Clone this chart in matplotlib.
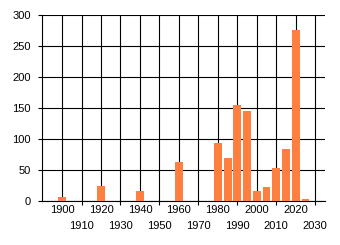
import matplotlib
matplotlib.use('Agg')
import matplotlib.pyplot as plt

plt.rc('font', family='Liberation Sans', size=8)

# Values
years = [1900, 1920, 1940, 1960, 1980, 1985, 1990, 1995, 2000, 2005, 2010, 2015, 2020, 2025]
counts = [6, 24, 16, 63, 93, 69, 155, 145, 16, 22, 54, 84, 276, 3]

top_row = [1900, 1920, 1940, 1960, 1980, 2000, 2020]
bottom_row = [1910, 1930, 1950, 1970, 1990, 2010, 2030]
yticks = [0, 50, 100, 150, 200, 250, 300]

fig = plt.figure(figsize=(3.4, 2.45), dpi=100)
ax = fig.add_axes([42 / 340, 44 / 245, 283 / 340, 186 / 245])

ax.bar(years, counts, width=4, color='#FF7F41', zorder=3)

ax.set_xlim(1889.7, 2035)
ax.set_ylim(0, 300)

# staggered decade labels: even decades on top row, odd ones below
ax.set_xticks(top_row)
ax.set_xticklabels([str(y) for y in top_row])
ax.set_xticks(bottom_row, minor=True)
ax.set_xticklabels([str(y) for y in bottom_row], minor=True)
ax.tick_params(axis='x', which='major', length=0, pad=3)
ax.tick_params(axis='x', which='minor', length=3, width=0.8, pad=11.5)
ax.set_yticks(yticks)
ax.tick_params(axis='y', length=3, width=0.8, pad=5)

ax.grid(True, which='both', color='black', linewidth=0.8, zorder=0)
ax.set_axisbelow(True)

for side in ['top', 'right']:
    ax.spines[side].set_visible(False)
for side in ['left', 'bottom']:
    ax.spines[side].set_linewidth(0.8)

plt.savefig('out.png', dpi=100)
